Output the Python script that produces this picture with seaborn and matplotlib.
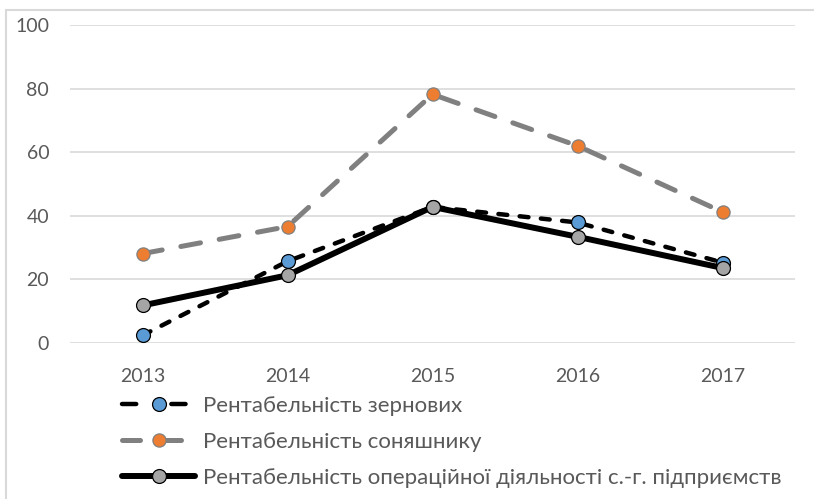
import matplotlib
matplotlib.use("Agg")
import matplotlib.pyplot as plt
from matplotlib.lines import Line2D
import seaborn as sns
import pandas as pd

# --- Дані ---
years = ["2013", "2014", "2015", "2016", "2017"]
grain = [2.4, 25.7, 42.8, 37.9, 25.3]
sunflower = [28.1, 36.6, 78.2, 62.0, 41.2]
operating = [11.8, 21.3, 42.8, 33.4, 23.6]

labels = [
    "Рентабельність зернових",
    "Рентабельність соняшнику",
    "Рентабельність операційної діяльності с.-г. підприємств",
]

sns.set_theme(style="white")
plt.rcParams["font.family"] = ["Lato", "DejaVu Sans"]

text_color = "#595959"
grid_color = "#D9D9D9"

fig = plt.figure(figsize=(8.14, 4.99), dpi=100)
ax = fig.add_axes([70 / 814, 1 - 343 / 499, 725 / 814, 318 / 499])

x = list(range(len(years)))

styles = [
    dict(color="black", linewidth=3.2, linestyle=(0, (2.0, 2.8)), dash_capstyle="round",
         marker="o", markersize=10, markerfacecolor="#5B9BD5",
         markeredgecolor="black", markeredgewidth=0.9),
    dict(color="#808080", linewidth=3.6, linestyle=(0, (4.0, 3.8)), dash_capstyle="round",
         marker="o", markersize=9.5, markerfacecolor="#ED7D31",
         markeredgecolor="#808080", markeredgewidth=0.9),
    dict(color="black", linewidth=4.3, linestyle="-", solid_capstyle="round",
         marker="o", markersize=10, markerfacecolor="#A5A5A5",
         markeredgecolor="black", markeredgewidth=0.9),
]

for series, st in zip([grain, sunflower, operating], styles):
    df = pd.DataFrame({"x": x, "y": series})
    sns.lineplot(data=df, x="x", y="y", ax=ax, legend=False)
    ax.lines[-1].set(**st)

ax.set_xlim(-0.5, 4.5)
ax.set_ylim(0, 100)
ax.set_yticks([0, 20, 40, 60, 80, 100])
ax.set_xticks(x)
ax.set_xticklabels(years)
ax.set_xlabel("")
ax.set_ylabel("")
ax.grid(axis="y", color=grid_color, linewidth=1.2)
ax.set_axisbelow(True)
for sp in ax.spines.values():
    sp.set_visible(False)
ax.tick_params(axis="y", length=0, pad=15, labelsize=14, labelcolor=text_color)
ax.tick_params(axis="x", length=0, pad=18, labelsize=14, labelcolor=text_color)

# легенда: у маркерах легенди штрихи симетричні навколо кружка
legend_dashes = [(0, (3.2, 7.9)), (0, (3.6, 4.6)), "-"]
handles = []
for st, ls in zip(styles, legend_dashes):
    h = Line2D([], [], **st)
    h.set_linestyle(ls)
    handles.append(h)
fig.legend(handles, labels, loc="upper left", bbox_to_anchor=(122 / 814, 1 - 396 / 499),
           frameon=False, fontsize=16, labelcolor=text_color,
           handlelength=3.3, handletextpad=0.35, labelspacing=0.72,
           borderaxespad=0, borderpad=0)

# рамка діаграми (видно лише лівий і верхній край)
fig.add_artist(Line2D([6 / 814, 6 / 814], [0, 1 - 10 / 499], color=grid_color,
                      lw=1.5, transform=fig.transFigure))
fig.add_artist(Line2D([6 / 814, 1], [1 - 10 / 499, 1 - 10 / 499], color=grid_color,
                      lw=1.5, transform=fig.transFigure))

fig.savefig("out.png", dpi=100)
